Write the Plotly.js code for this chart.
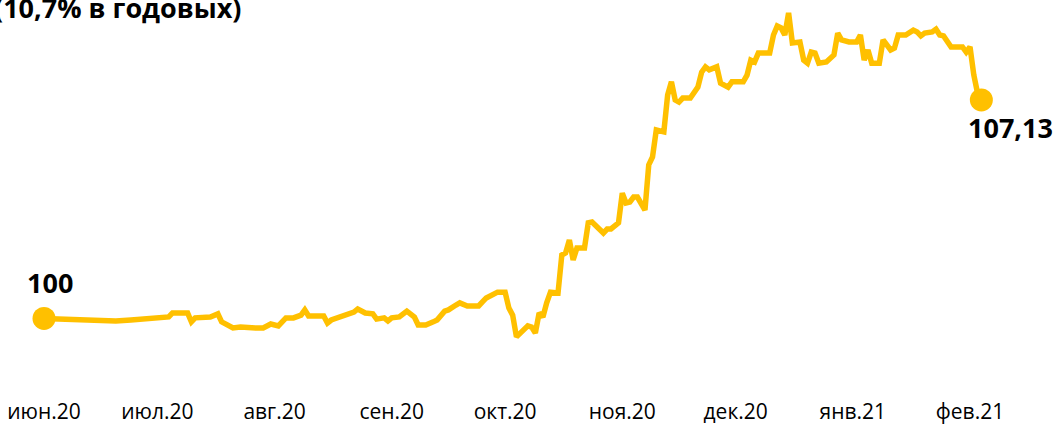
<!DOCTYPE html>
<html>
<head>
<meta charset="utf-8">
<script src="https://cdn.plot.ly/plotly-3.0.1.min.js"></script>
<style>html,body{margin:0;padding:0;background:#fff;}#chart{width:1058px;height:428px;}</style>
</head>
<body>
<div id="chart"></div>
<script>
const dates = [
"2020-06-01","2020-06-06","2020-06-15","2020-06-20","2020-06-24","2020-06-28",
"2020-07-01","2020-07-04","2020-07-05","2020-07-08","2020-07-09","2020-07-10","2020-07-11",
"2020-07-15","2020-07-17","2020-07-18","2020-07-21","2020-07-23","2020-07-25","2020-07-27",
"2020-07-29","2020-07-31","2020-08-02","2020-08-04","2020-08-06","2020-08-08","2020-08-09",
"2020-08-10","2020-08-14","2020-08-15","2020-08-16","2020-08-18","2020-08-20","2020-08-22",
"2020-08-23","2020-08-25","2020-08-27","2020-08-28","2020-08-30","2020-08-31","2020-09-01",
"2020-09-03","2020-09-05","2020-09-07","2020-09-08","2020-09-10","2020-09-12","2020-09-13",
"2020-09-15","2020-09-16","2020-09-18","2020-09-19","2020-09-21","2020-09-24","2020-09-25",
"2020-09-26","2020-09-29","2020-10-01","2020-10-02","2020-10-03","2020-10-04","2020-10-06",
"2020-10-07","2020-10-08","2020-10-09","2020-10-10","2020-10-11","2020-10-12","2020-10-13",
"2020-10-15","2020-10-16","2020-10-17","2020-10-18","2020-10-19","2020-10-20","2020-10-22",
"2020-10-23","2020-10-24","2020-10-27","2020-10-28","2020-10-29","2020-10-31","2020-11-01",
"2020-11-02","2020-11-03","2020-11-04","2020-11-05","2020-11-07","2020-11-08","2020-11-09",
"2020-11-10","2020-11-12","2020-11-13","2020-11-14","2020-11-15","2020-11-16","2020-11-17",
"2020-11-19","2020-11-21","2020-11-22","2020-11-23","2020-11-24","2020-11-26","2020-11-27",
"2020-11-29","2020-11-30","2020-12-03","2020-12-04","2020-12-05","2020-12-06","2020-12-07",
"2020-12-10","2020-12-11","2020-12-12","2020-12-13","2020-12-14","2020-12-15","2020-12-16",
"2020-12-17","2020-12-18","2020-12-19","2020-12-20","2020-12-21","2020-12-22","2020-12-23",
"2020-12-25","2020-12-27","2020-12-28","2020-12-29","2020-12-31","2021-01-02","2021-01-03",
"2021-01-04","2021-01-05","2021-01-06","2021-01-08","2021-01-09","2021-01-11","2021-01-12",
"2021-01-13","2021-01-15","2021-01-17","2021-01-18","2021-01-19","2021-01-20","2021-01-22",
"2021-01-23","2021-01-24","2021-01-25","2021-01-27","2021-01-29","2021-01-30","2021-01-31",
"2021-02-01","2021-02-02","2021-02-03","2021-02-04"
];
const values = [
100.00,99.98,99.95,99.92,99.95,99.98,
100.02,100.05,100.18,100.21,100.18,99.89,100.02,
100.05,100.15,99.89,99.69,99.72,99.69,99.69,
99.69,99.82,99.76,100.02,100.02,100.11,100.28,
100.08,100.08,99.85,99.95,100.05,100.11,100.21,
100.31,100.18,100.15,99.98,100.02,99.92,100.02,
100.05,100.24,100.05,99.79,99.79,99.89,99.95,
100.24,100.28,100.44,100.51,100.41,100.41,100.54,
100.67,100.86,100.86,100.34,100.11,99.40,99.66,
99.76,99.72,99.53,100.18,100.05,100.51,100.86,
100.83,102.07,102.14,102.56,101.91,102.30,102.30,
103.12,103.15,102.79,102.92,102.92,103.12,104.09,
103.77,103.80,103.96,103.96,103.54,105.01,105.27,
106.15,106.09,107.29,107.72,107.13,107.06,107.19,
107.19,107.55,108.04,108.21,108.11,108.21,107.68,
107.55,107.72,107.72,107.94,108.43,108.37,108.66,
108.66,109.25,109.54,109.48,109.25,109.97,108.99,
109.02,109.02,108.43,108.33,108.69,108.66,108.33,
108.37,108.60,109.31,109.09,109.02,109.02,109.25,
108.43,108.76,108.33,108.33,109.09,108.76,108.82,
109.25,109.25,109.41,109.35,109.22,109.31,109.35,
109.44,109.25,109.22,108.86,108.86,108.86,108.69,
108.86,107.95,107.35,107.13
];
const tickDates = ["2020-06-01","2020-07-01","2020-08-01","2020-09-01","2020-10-01","2020-11-01","2020-12-01","2021-01-01","2021-02-01"];
const tickLabels = ["июн.20","июл.20","авг.20","сен.20","окт.20","ноя.20","дек.20","янв.21","фев.21"];
const titleText = "(10,7% в годовых)";

const gold = "#FFC000";
const n = values.length;
const fmt = v => (Math.round(v*100)/100).toString().replace(".", ",");

const traces = [
  {x: dates, y: values, type: "scatter", mode: "lines",
   line: {color: gold, width: 5.5}, hoverinfo: "skip"},
  {x: [dates[0], dates[n-1]], y: [values[0], values[n-1]], type: "scatter", mode: "markers",
   marker: {color: gold, size: 23}, cliponaxis: false, hoverinfo: "skip"}
];

const fam = "'Open Sans', 'Noto Sans', sans-serif";
const layout = {
  width: 1058, height: 428,
  margin: {l: 0, r: 0, t: 0, b: 38},
  paper_bgcolor: "#fff", plot_bgcolor: "#fff",
  showlegend: false,
  xaxis: {
    type: "date",
    range: ["2020-05-20 08:38", "2021-02-24 06:43"],
    tickmode: "array", tickvals: tickDates, ticktext: tickLabels,
    showgrid: false, zeroline: false, showline: false, ticks: "",
    ticklabelstandoff: 7,
    tickfont: {family: fam, size: 21, color: "#000"}
  },
  yaxis: {range: [97.667, 110.391], visible: false, showgrid: false, zeroline: false},
  annotations: [
    {x: dates[0], y: values[0], xref: "x", yref: "y", text: "<b>" + fmt(values[0]) + "</b>",
     showarrow: false, xshift: 6, yshift: 36, font: {family: fam, size: 27, color: "#000"}},
    {x: dates[n-1], y: values[n-1], xref: "x", yref: "y", text: "<b>" + fmt(values[n-1]) + "</b>",
     showarrow: false, xshift: 29, yshift: -28, font: {family: fam, size: 27, color: "#000"}},
    {x: 0, y: 1, xref: "paper", yref: "paper", xanchor: "left", yanchor: "top",
     text: "<b>" + titleText + "</b>", showarrow: false, xshift: -8, yshift: 13,
     font: {family: fam, size: 27, color: "#000"}}
  ]
};
Plotly.newPlot("chart", traces, layout, {displayModeBar: false, staticPlot: true});
</script>
</body>
</html>
